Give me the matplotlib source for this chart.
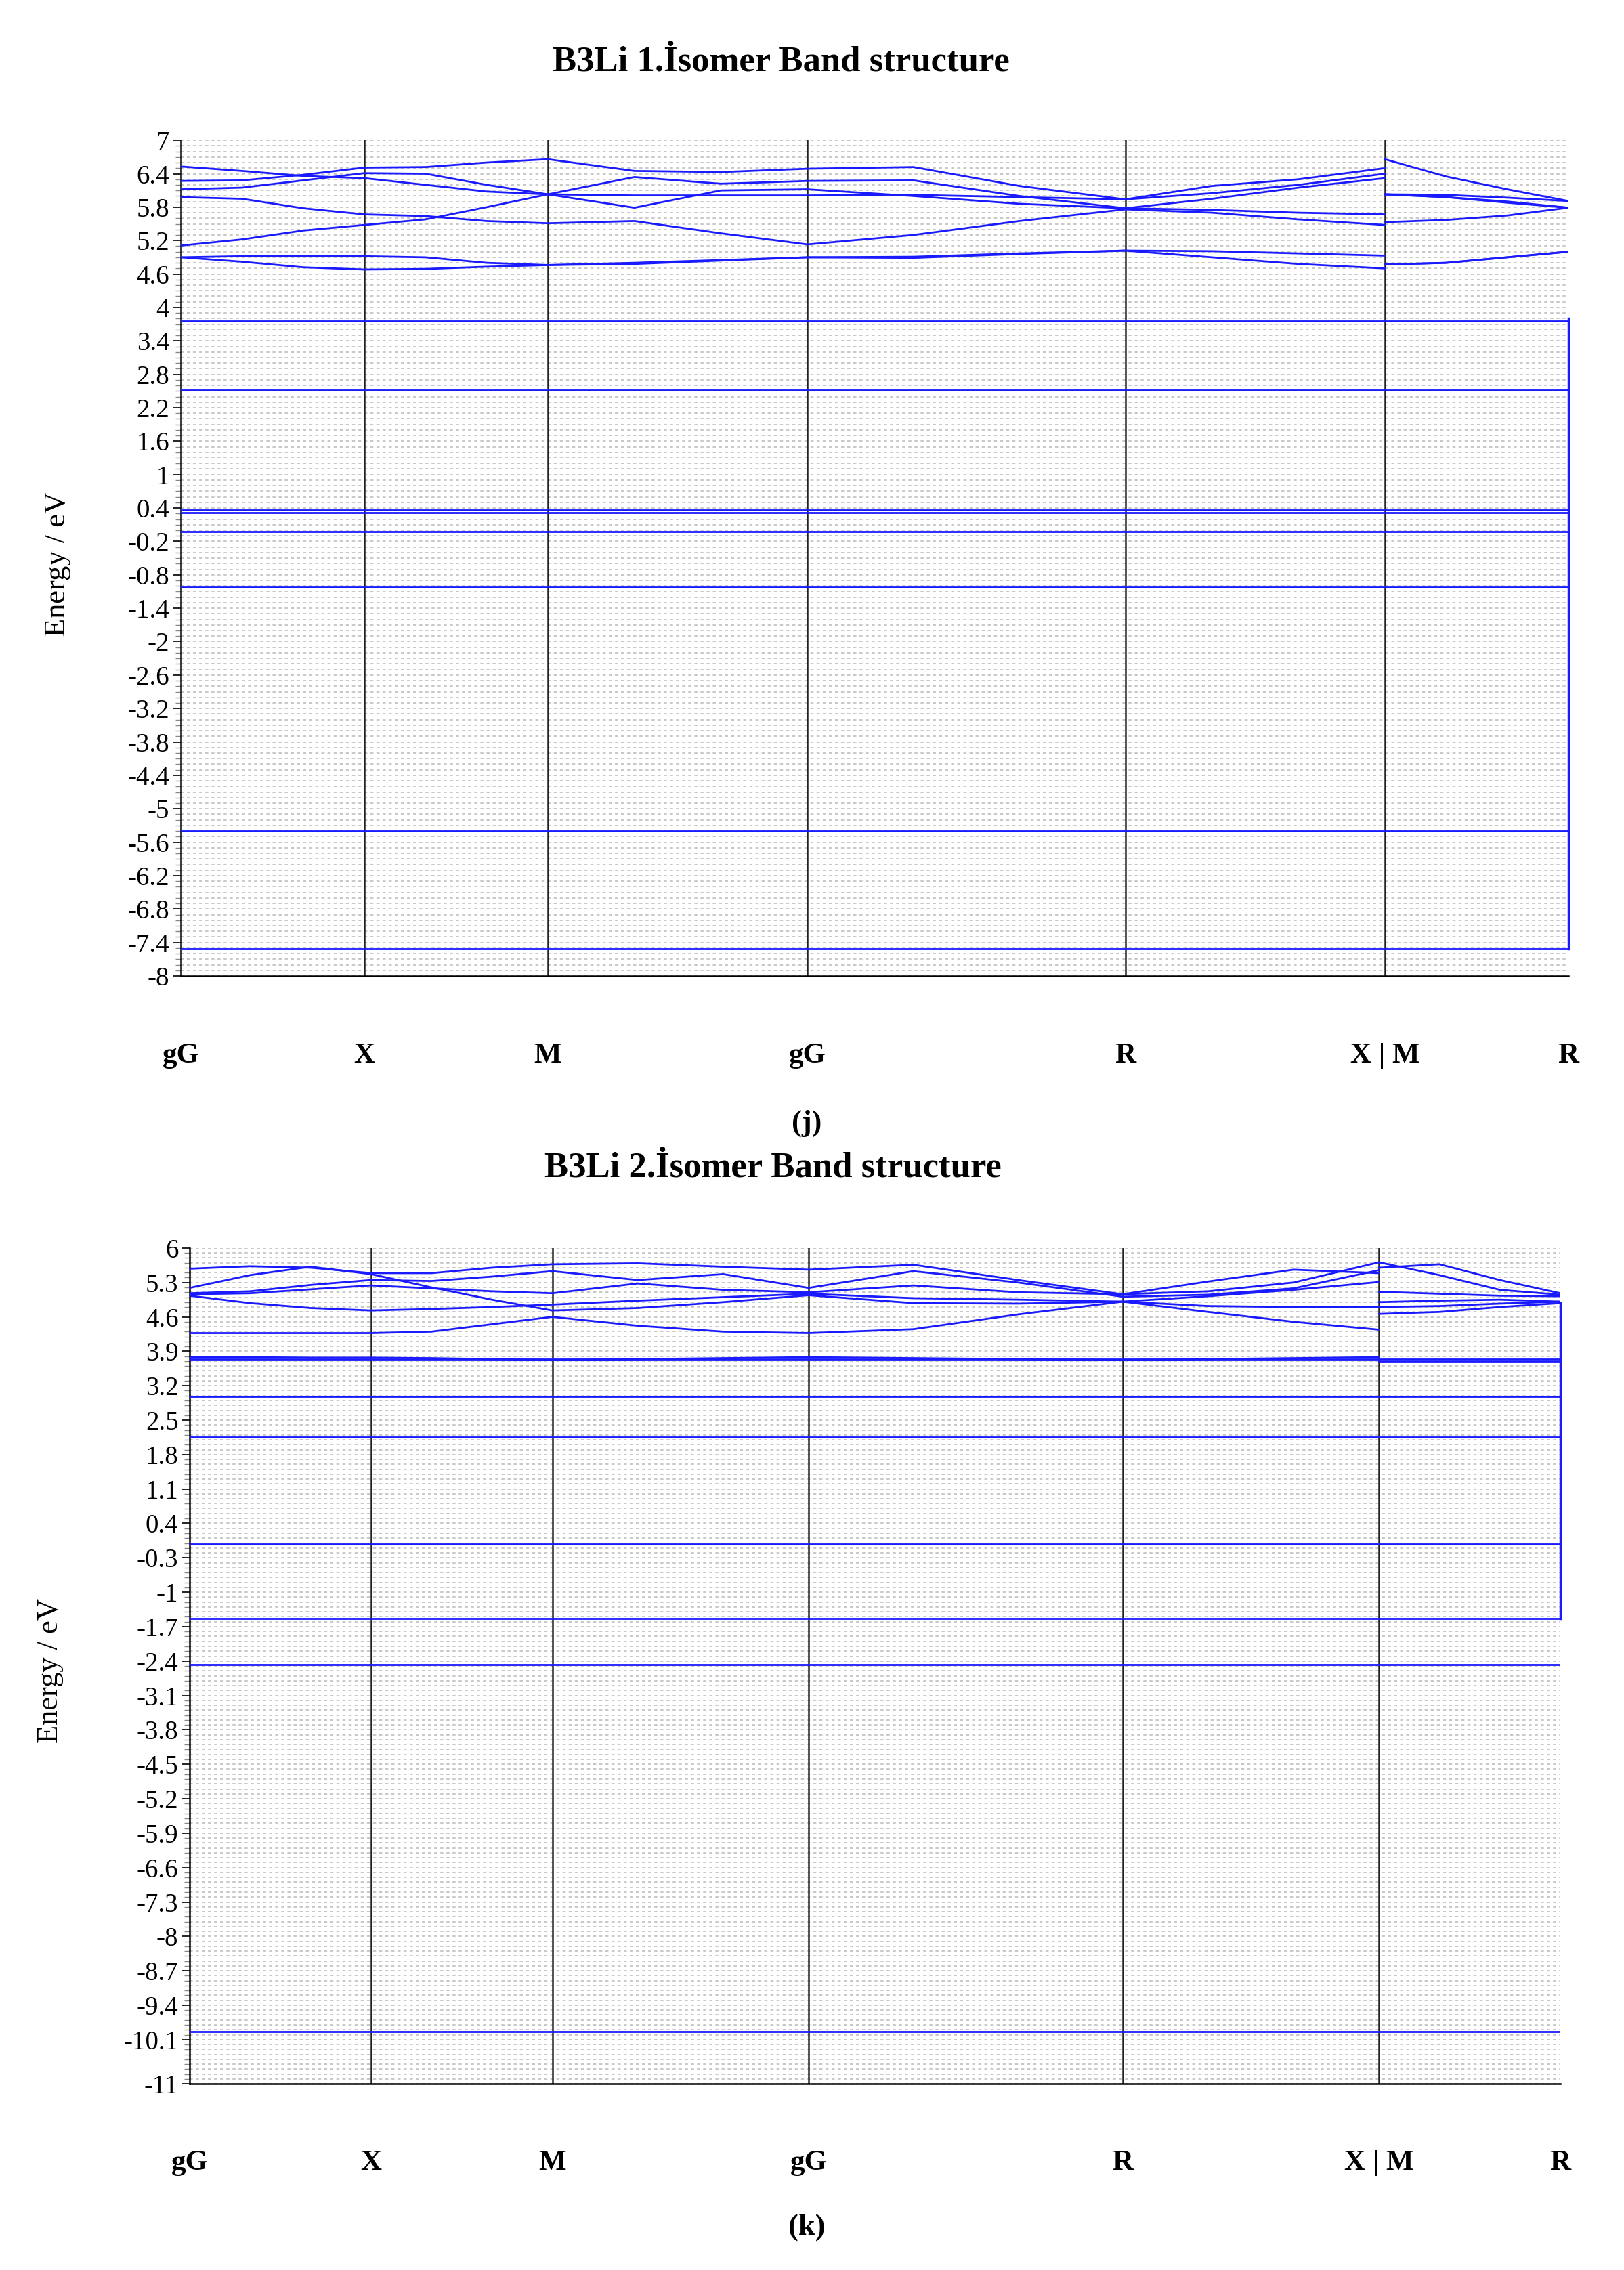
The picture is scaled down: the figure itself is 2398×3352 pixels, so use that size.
import numpy as np
import matplotlib
matplotlib.use("Agg")
import matplotlib.pyplot as plt
from matplotlib.transforms import blended_transform_factory as btf

plt.rcParams['font.family'] = ['Liberation Serif', 'DejaVu Serif']

# ---------------- data ----------------
kpath_labels = ["gG", "X", "M", "gG", "R", "X | M", "R"]
k_nodes = [0.0, 0.5, 1.0, 1.707, 2.573, 3.280, 3.780]

# Panel (j): dispersive bands, sampled at node,1/3,2/3 per segment
# path1: G-X, X-M, M-G, G-R, R-X (16 samples); path2: M-R (4 samples)
top_path1 = [
    [6.53, 6.45, 6.36, 6.32, 6.20, 6.08, 6.03, 5.79, 6.10, 6.12, 6.00, 5.86, 5.78, 5.75, 5.70, 5.67],
    [6.27, 6.28, 6.38, 6.51, 6.52, 6.60, 6.66, 6.45, 6.43, 6.49, 6.52, 6.18, 5.94, 6.18, 6.30, 6.50],
    [6.12, 6.15, 6.28, 6.41, 6.40, 6.20, 6.03, 6.34, 6.22, 6.27, 6.28, 6.00, 5.78, 5.95, 6.15, 6.32],
    [5.98, 5.95, 5.78, 5.67, 5.64, 5.55, 5.51, 5.55, 5.33, 5.13, 5.30, 5.55, 5.76, 5.70, 5.58, 5.48],
    [5.11, 5.22, 5.38, 5.48, 5.58, 5.80, 6.03, 6.01, 6.01, 6.01, 6.02, 5.98, 5.94, 6.05, 6.20, 6.40],
    [4.90, 4.92, 4.92, 4.92, 4.90, 4.80, 4.76, 4.80, 4.85, 4.90, 4.91, 4.97, 5.02, 5.01, 4.97, 4.93],
    [4.90, 4.82, 4.72, 4.68, 4.69, 4.73, 4.76, 4.78, 4.84, 4.90, 4.89, 4.96, 5.02, 4.90, 4.78, 4.70],
]
top_path2 = [
    [6.03, 5.98, 5.88, 5.79],
    [6.66, 6.35, 6.12, 5.91],
    [6.03, 5.98, 5.90, 5.79],
    [5.53, 5.57, 5.65, 5.79],
    [6.03, 6.02, 5.97, 5.91],
    [4.77, 4.80, 4.90, 5.00],
    [4.77, 4.80, 4.90, 5.00],
]
top_flat = [3.76, 2.51, 0.36, 0.32, -0.02, -1.02, -5.40, -7.51]
top_ticks = [7, 6.4, 5.8, 5.2, 4.6, 4, 3.4, 2.8, 2.2, 1.6, 1, 0.4, -0.2, -0.8, -1.4,
             -2, -2.6, -3.2, -3.8, -4.4, -5, -5.6, -6.2, -6.8, -7.4, -8]

# Panel (k)
bot_path1 = [
    [5.58, 5.63, 5.60, 5.49, 5.49, 5.60, 5.67, 5.69, 5.62, 5.56, 5.66, 5.35, 5.06, 5.32, 5.56, 5.49],
    [5.19, 5.45, 5.62, 5.47, 5.20, 4.95, 4.73, 4.78, 4.90, 5.04, 4.88, 4.87, 4.91, 4.82, 4.80, 4.80],
    [5.08, 5.12, 5.25, 5.35, 5.33, 5.42, 5.53, 5.35, 5.47, 5.19, 5.53, 5.30, 5.01, 5.05, 5.18, 5.55],
    [5.06, 5.08, 5.16, 5.24, 5.18, 5.12, 5.08, 5.28, 5.15, 5.10, 5.24, 5.10, 5.06, 5.12, 5.30, 5.71],
    [5.03, 4.88, 4.78, 4.73, 4.76, 4.80, 4.85, 4.93, 5.00, 5.07, 4.98, 4.95, 4.91, 5.02, 5.15, 5.31],
    [4.27, 4.27, 4.27, 4.27, 4.30, 4.45, 4.60, 4.42, 4.30, 4.27, 4.35, 4.65, 4.91, 4.70, 4.50, 4.34],
    [3.78, 3.78, 3.77, 3.77, 3.76, 3.74, 3.72, 3.74, 3.76, 3.78, 3.76, 3.74, 3.72, 3.74, 3.76, 3.78],
]
bot_path2 = [
    [5.60, 5.67, 5.35, 5.08],
    [4.80, 4.82, 4.87, 4.91],
    [5.11, 5.07, 5.03, 5.02],
    [5.71, 5.45, 5.15, 5.05],
    [4.90, 4.93, 4.95, 4.91],
    [4.66, 4.70, 4.80, 4.88],
    [3.70, 3.70, 3.70, 3.70],
]
bot_flat = [3.74, 2.98, 2.15, -0.02, -1.53, -2.47, -9.94]
bot_ticks = [6, 5.3, 4.6, 3.9, 3.2, 2.5, 1.8, 1.1, 0.4, -0.3, -1, -1.7, -2.4, -3.1, -3.8,
             -4.5, -5.2, -5.9, -6.6, -7.3, -8, -8.7, -9.4, -10.1, -11]

# ---------------- plotting ----------------
BLUE = '#1a1aff'


def sample_k(nodes):
    ks = []
    for i in range(len(nodes) - 1):
        seg = np.linspace(nodes[i], nodes[i + 1], 4)
        ks.extend(seg if i == 0 else seg[1:])
    return np.array(ks)


def panel(ax, path1, path2, flat, ticks, ylim, vline_rng, title, title_pos, xlab_y, cap, cap_y, ylab_pos, fig):
    k1 = sample_k(k_nodes[:6])
    k2 = sample_k(k_nodes[5:])
    ax.set_xlim(k_nodes[0], k_nodes[-1])
    ax.set_ylim(*ylim)
    for y in np.arange(ylim[0], ylim[1] + 0.001, 0.1):
        ax.axhline(y, color='#c4c4c4', lw=1.3, ls=(0, (2.5, 2.5)), zorder=0)
    for k in k_nodes[1:-1]:
        ax.axvline(k, color='#222222', lw=1.8, zorder=1)
    for b in path1:
        ax.plot(k1, b, color=BLUE, lw=2.0, zorder=3)
    for b in path2:
        ax.plot(k2, b, color=BLUE, lw=2.0, zorder=3)
    for v in flat:
        ax.plot([k_nodes[0], k_nodes[-1]], [v, v], color=BLUE, lw=2.0, zorder=3)
    ax.plot([k_nodes[-1]] * 2, vline_rng, color=BLUE, lw=2.5, zorder=4, clip_on=False)
    ax.set_yticks(ticks)
    ax.set_yticklabels([("%g" % t) for t in ticks], fontsize=28)
    ax.set_yticks(np.arange(ylim[0], ylim[1] + 0.001, 0.1), minor=True)
    ax.tick_params(axis='y', which='major', length=8, width=1.2, pad=4)
    ax.tick_params(axis='y', which='minor', length=6, width=1.0, color='#888888')
    ax.set_xticks([])
    for s in ['top', 'right']:
        ax.spines[s].set_visible(False)
    ax.spines['left'].set_linewidth(1.8)
    ax.spines['bottom'].set_linewidth(1.8)
    ax.axvline(k_nodes[-1], color='#666666', lw=1.8, zorder=1)
    tr = btf(ax.transData, fig.transFigure)
    for k, lab in zip(k_nodes, kpath_labels):
        ax.text(k, xlab_y, lab, transform=tr, ha='center', va='center',
                fontsize=31, fontweight='bold')
    fig.text(title_pos[0], title_pos[1], title, ha='center', va='center',
             fontsize=38, fontweight='bold')
    fig.text(0.4968, cap_y, cap, ha='center', va='center', fontsize=32, fontweight='bold')
    fig.text(ylab_pos[0], ylab_pos[1], "Energy / eV", rotation=90, ha='center',
             va='center', fontsize=32)


fig = plt.figure(figsize=(23.98, 33.52), dpi=100)
ax1 = fig.add_axes([0.1113, 0.5701, 0.9658 - 0.1113, 0.9382 - 0.5701])
ax2 = fig.add_axes([0.1168, 0.0820, 0.9608 - 0.1168, 0.4502 - 0.0820])

panel(ax1, top_path1, top_path2, top_flat, top_ticks, (-8, 7), (3.80, -7.51),
      "B3Li 1.İsomer Band structure", (0.481, 0.9726), 0.535, "(j)", 0.505, (0.0356, 0.7515), fig)
panel(ax2, bot_path1, bot_path2, bot_flat, bot_ticks, (-11, 6), (4.88, -1.53),
      "B3Li 2.İsomer Band structure", (0.476, 0.4854), 0.047, "(k)", 0.019, (0.031, 0.264), fig)

fig.savefig("out.png", dpi=100)
